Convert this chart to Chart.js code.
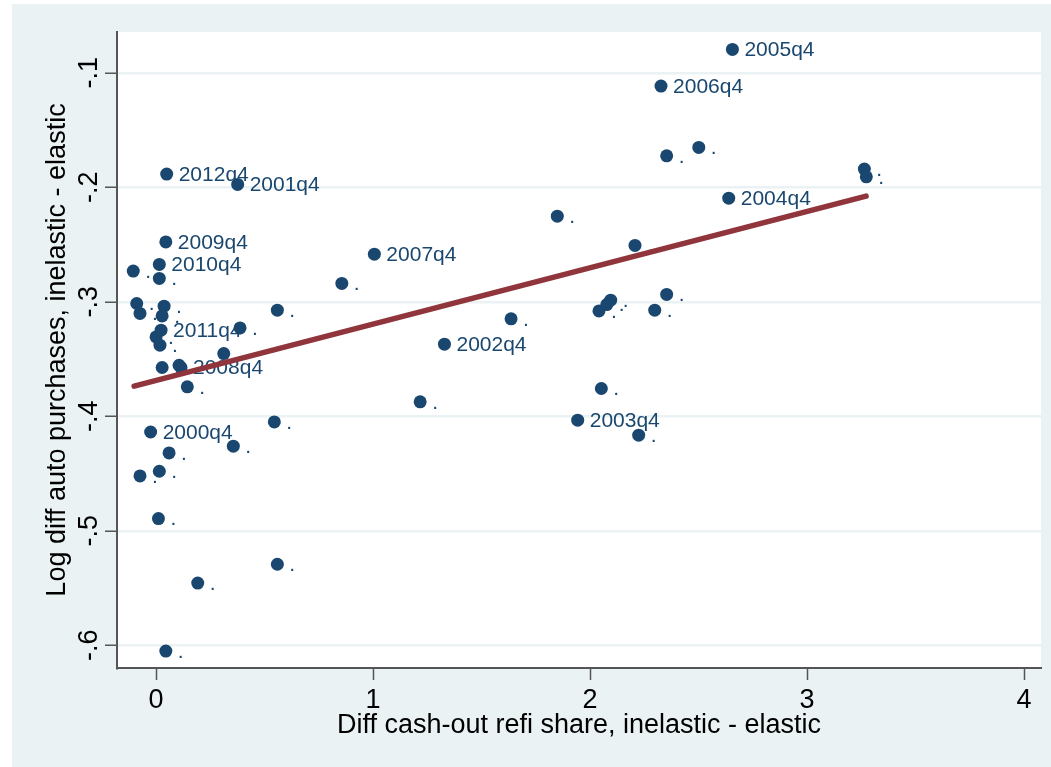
<!DOCTYPE html>
<html>
<head>
<meta charset="utf-8">
<script src="https://cdn.jsdelivr.net/npm/chart.js@4.4.1/dist/chart.umd.min.js"></script>
<style>
  html, body { margin: 0; padding: 0; background: #fff; }
  #contenedor { width: 1051px; height: 767px; }
</style>
</head>
<body>
<div id="contenedor"><canvas id="grafico" width="1051" height="767"></canvas></div>
<script>
// Datos (52 trimestres, solo q4 con etiqueta)
const etiquetas = [
    '2005q4', '2006q4', '.', '.', '.', '.', '2004q4', '.', '.', '2007q4',
    '.', '.', '2002q4', '.', '.', '.', '.', '.', '.', '.',
    '2003q4', '.', '2012q4', '2001q4', '2009q4', '2010q4', '.', '.', '.', '.',
    '.', '.', '.', '2011q4', '.', '.', '.', '.', '.', '.',
    '2008q4', '.', '2000q4', '.', '.', '.', '.', '.', '.', '.',
    '.', '.'
];
const valoresX = [
    2.656, 2.327, 2.353, 2.501, 3.264, 3.273, 2.639, 1.849, 2.207, 1.006,
    0.856, 1.636, 1.329, 1.217, 2.041, 2.077, 2.095, 2.298, 2.353, 2.052,
    1.943, 2.224, 0.049, 0.376, 0.045, 0.015, -0.105, 0.015, -0.089, -0.074,
    0.037, 0.028, 0.559, 0.023, 0.387, 0.000, 0.018, 0.312, 0.028, 0.106,
    0.115, 0.144, -0.025, 0.545, 0.060, 0.356, -0.074, 0.015, 0.011, 0.559,
    0.192, 0.045
];
const valoresY = [
    -0.0796, -0.1116, -0.1725, -0.1652, -0.1841, -0.1909, -0.2095, -0.2252, -0.2508, -0.2584,
    -0.2840, -0.3149, -0.3370, -0.3874, -0.3080, -0.3024, -0.2986, -0.3073, -0.2936, -0.3757,
    -0.4034, -0.4165, -0.1885, -0.1975, -0.2477, -0.2674, -0.2732, -0.2796, -0.3015, -0.3102,
    -0.3038, -0.3123, -0.3073, -0.3248, -0.3228, -0.3307, -0.3379, -0.3452, -0.3574, -0.3554,
    -0.3574, -0.3743, -0.4137, -0.4049, -0.4320, -0.4261, -0.4521, -0.4480, -0.4893, -0.5292,
    -0.5456, -0.6050
];
// Recta de ajuste (extremos)
const ajusteX = [-0.101, 3.272];
const ajusteY = [-0.3737, -0.2077];

const ticksX = [0, 1, 2, 3, 4];
const etiquetasTicksX = ['0', '1', '2', '3', '4'];
const ticksY = [-0.6, -0.5, -0.4, -0.3, -0.2, -0.1];
const etiquetasTicksY = ['-.6', '-.5', '-.4', '-.3', '-.2', '-.1'];

const fuente = '"Liberation Sans", Arial, sans-serif';

// Fondo del panel y del area de trazado
const fondo = {
    id: 'fondo',
    beforeDraw(chart) {
        const { ctx, chartArea } = chart;
        ctx.save();
        ctx.fillStyle = '#ffffff';
        ctx.fillRect(0, 0, chart.width, chart.height);
        ctx.fillStyle = '#EAF2F3';
        ctx.fillRect(12, 4, chart.width - 12, chart.height - 4);
        ctx.fillStyle = '#ffffff';
        ctx.fillRect(chartArea.left, chartArea.top, chartArea.right - chartArea.left, chartArea.bottom - chartArea.top);
        ctx.restore();
    }
};

// Etiquetas de los puntos (debajo de la recta)
const etiquetasPuntos = {
    id: 'etiquetasPuntos',
    afterDatasetDraw(chart, args) {
        if (args.index !== 0) return;
        const ctx = chart.ctx;
        ctx.save();
        ctx.font = '21px ' + fuente;
        ctx.fillStyle = '#1A476F';
        ctx.textBaseline = 'middle';
        ctx.textAlign = 'left';
        args.meta.data.forEach((p, i) => {
            ctx.fillText(etiquetas[i], p.x + 12, p.y + 1);
        });
        ctx.restore();
    }
};

function crearGrafico() {
    const ctx = document.getElementById('grafico').getContext('2d');

    new Chart(ctx, {
        type: 'scatter',
        data: {
            datasets: [{
                data: valoresX.map((x, i) => ({ x: x, y: valoresY[i] })),
                backgroundColor: '#1A476F',
                borderWidth: 0,
                pointRadius: 6.5,
                pointHoverRadius: 6.5,
                order: 2
            }, {
                data: ajusteX.map((x, i) => ({ x: x, y: ajusteY[i] })),
                showLine: true,
                borderColor: '#90353B',
                borderWidth: 5.5,
                borderCapStyle: 'round',
                pointRadius: 0,
                order: 1
            }]
        },
        options: {
            responsive: false,
            animation: false,
            events: [],
            layout: { padding: { top: 32, right: 10, left: 0, bottom: 0 } },
            plugins: {
                legend: { display: false },
                tooltip: { enabled: false }
            },
            scales: {
                x: {
                    type: 'linear',
                    min: -0.18,
                    max: 4.078,
                    afterBuildTicks: s => { s.ticks = ticksX.map(v => ({ value: v })); },
                    afterFit: s => { s.height = 99; },
                    grid: { drawOnChartArea: false, tickLength: 12, tickColor: '#555', tickWidth: 1.5 },
                    border: { color: '#555', width: 2 },
                    ticks: {
                        color: '#000',
                        font: { family: fuente, size: 27 },
                        padding: 4,
                        maxRotation: 0,
                        callback: (v, i) => etiquetasTicksX[i]
                    },
                    title: {
                        display: true,
                        text: 'Diff cash-out refi share, inelastic - elastic',
                        color: '#000',
                        font: { family: fuente, size: 27 },
                        padding: { top: 0, bottom: 25 }
                    }
                },
                y: {
                    type: 'linear',
                    min: -0.6198,
                    max: -0.0644,
                    afterBuildTicks: s => { s.ticks = ticksY.map(v => ({ value: v })); },
                    afterFit: s => { s.width = 117; },
                    grid: { color: '#EAF2F3', lineWidth: 2.5, tickLength: 12, tickColor: '#555', tickWidth: 1.5 },
                    border: { color: '#555', width: 2 },
                    ticks: {
                        color: '#000',
                        font: { family: fuente, size: 27 },
                        padding: 0,
                        minRotation: 90,
                        maxRotation: 90,
                        crossAlign: 'center',
                        callback: (v, i) => etiquetasTicksY[i]
                    },
                    title: {
                        display: true,
                        text: 'Log diff auto purchases, inelastic - elastic',
                        color: '#000',
                        font: { family: fuente, size: 27 },
                        padding: { top: 41, bottom: 0 }
                    }
                }
            }
        },
        plugins: [fondo, etiquetasPuntos]
    });
}

document.addEventListener('DOMContentLoaded', crearGrafico);
</script>
</body>
</html>
